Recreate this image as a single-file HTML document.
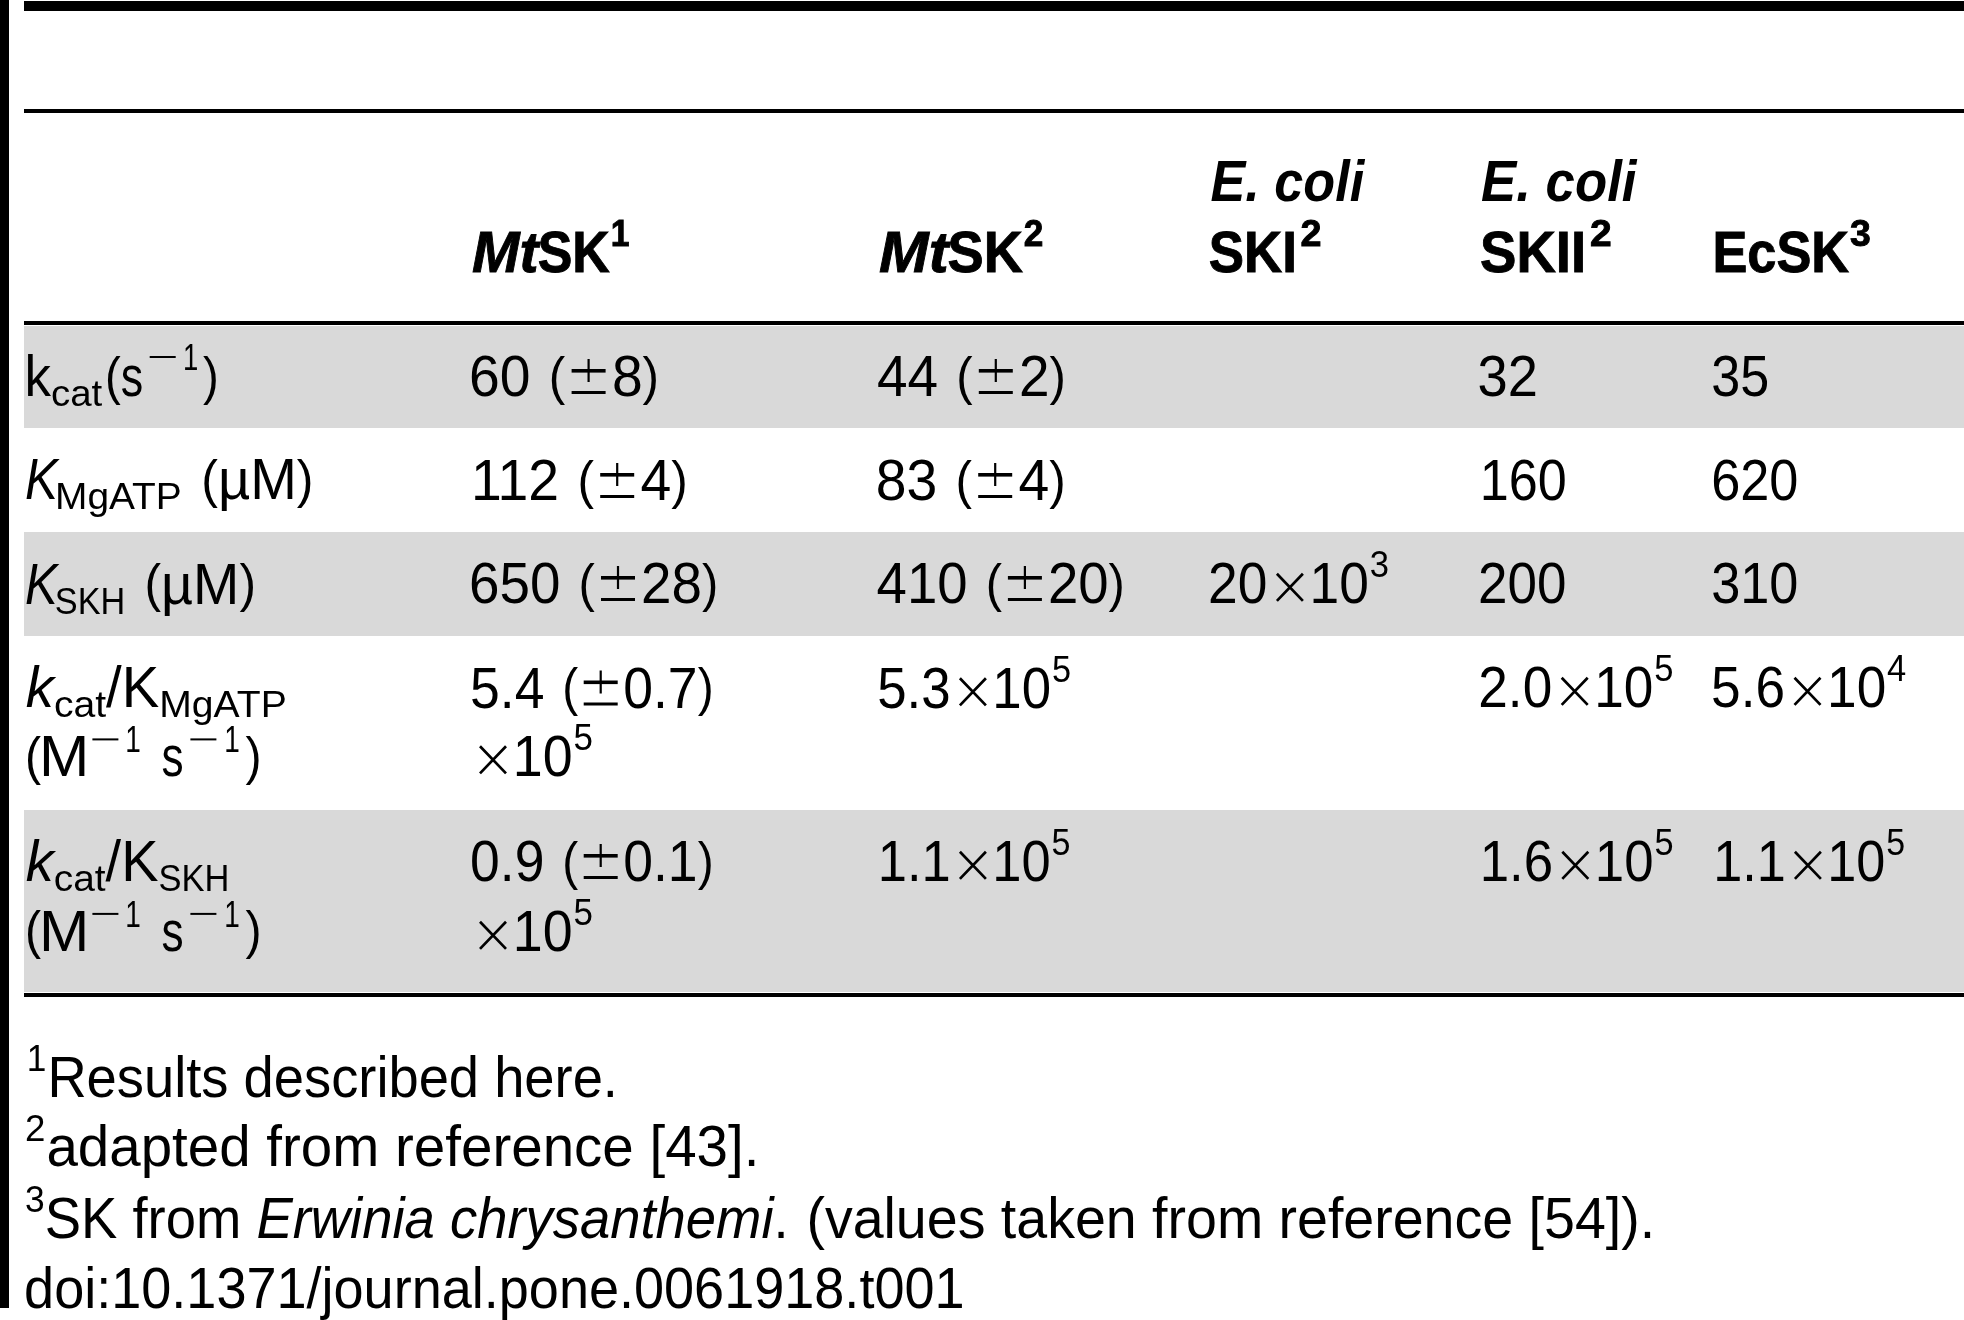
<!DOCTYPE html>
<html><head><meta charset="utf-8"><title>Table</title>
<style>
html,body{margin:0;padding:0;background:#fff;}
body{width:1964px;height:1320px;overflow:hidden;}
svg{display:block;will-change:transform;font-family:"Liberation Sans",sans-serif;font-size:57px;white-space:pre;}
</style></head><body>
<svg width="1964" height="1320" viewBox="0 0 1964 1320">
<rect x="0" y="0" width="9" height="1308"/>
<rect x="24" y="1" width="1940" height="10"/>
<rect x="24" y="109" width="1940" height="4"/>
<rect x="24" y="321" width="1940" height="4"/>
<rect x="24" y="326" width="1940" height="102" fill="#d9d9d9"/>
<rect x="24" y="532" width="1940" height="104" fill="#d9d9d9"/>
<rect x="24" y="810" width="1940" height="182" fill="#d9d9d9"/>
<rect x="24" y="993" width="1940" height="4"/>
<text x="472.0" y="272.0" font-weight="bold" stroke="#000" stroke-width="0.9" font-style="italic" textLength="66.62" lengthAdjust="spacingAndGlyphs">Mt</text>
<text x="537.7" y="272.0" font-weight="bold" stroke="#000" stroke-width="0.9" textLength="72.16" lengthAdjust="spacingAndGlyphs">SK</text>
<text x="610.8" y="246.0" font-size="37" font-weight="bold" stroke="#000" stroke-width="0.9" textLength="18.75" lengthAdjust="spacingAndGlyphs">1</text>
<text x="879.0" y="272.0" font-weight="bold" stroke="#000" stroke-width="0.9" font-style="italic" textLength="69.53" lengthAdjust="spacingAndGlyphs">Mt</text>
<text x="947.5" y="272.0" font-weight="bold" stroke="#000" stroke-width="0.9" textLength="75.30" lengthAdjust="spacingAndGlyphs">SK</text>
<text x="1023.8" y="246.0" font-size="37" font-weight="bold" stroke="#000" stroke-width="0.9" textLength="19.57" lengthAdjust="spacingAndGlyphs">2</text>
<text x="1210.4" y="201.0" font-weight="bold" font-style="italic" textLength="153.75" lengthAdjust="spacingAndGlyphs">E. coli</text>
<text x="1208.8" y="272.3" font-weight="bold" stroke="#000" stroke-width="0.9" textLength="88.12" lengthAdjust="spacingAndGlyphs">SKI</text>
<text x="1300.6" y="246.3" font-size="37" font-weight="bold" stroke="#000" stroke-width="0.9" textLength="20.99" lengthAdjust="spacingAndGlyphs">2</text>
<text x="1481.1" y="201.0" font-weight="bold" font-style="italic" textLength="155.35" lengthAdjust="spacingAndGlyphs">E. coli</text>
<text x="1480.0" y="272.3" font-weight="bold" stroke="#000" stroke-width="0.9" textLength="106.08" lengthAdjust="spacingAndGlyphs">SKII</text>
<text x="1589.9" y="246.3" font-size="37" font-weight="bold" stroke="#000" stroke-width="0.9" textLength="21.66" lengthAdjust="spacingAndGlyphs">2</text>
<text x="1712.4" y="272.3" font-weight="bold" stroke="#000" stroke-width="0.9" textLength="136.73" lengthAdjust="spacingAndGlyphs">EcSK</text>
<text x="1850.1" y="246.3" font-size="37" font-weight="bold" stroke="#000" stroke-width="0.9" textLength="20.79" lengthAdjust="spacingAndGlyphs">3</text>
<text x="24.5" y="396.0" textLength="26.43" lengthAdjust="spacingAndGlyphs">k</text>
<text x="51.0" y="406.0" font-size="37" textLength="51.27" lengthAdjust="spacingAndGlyphs">cat</text>
<text x="105.0" y="393.5" font-size="51" textLength="15.75" lengthAdjust="spacingAndGlyphs">(</text>
<text x="120.8" y="396.0" textLength="22.47" lengthAdjust="spacingAndGlyphs">s</text>
<rect x="149.7" y="356.0" width="26" height="2"/>
<text x="183.1" y="370.0" font-size="37" textLength="15.27" lengthAdjust="spacingAndGlyphs">1</text>
<text x="203.0" y="393.5" font-size="51" textLength="15.75" lengthAdjust="spacingAndGlyphs">)</text>
<text x="25.1" y="499.0" font-style="italic" textLength="32.86" lengthAdjust="spacingAndGlyphs">K</text>
<text x="55.0" y="509.0" font-size="37" textLength="126.75" lengthAdjust="spacingAndGlyphs">MgATP</text>
<text x="201.3" y="496.5" font-size="51" textLength="16.68" lengthAdjust="spacingAndGlyphs">(</text>
<text x="218.0" y="499.0" textLength="78.89" lengthAdjust="spacingAndGlyphs">µM</text>
<text x="296.8" y="496.5" font-size="51" textLength="16.68" lengthAdjust="spacingAndGlyphs">)</text>
<text x="25.1" y="603.6" font-style="italic" textLength="32.60" lengthAdjust="spacingAndGlyphs">K</text>
<text x="54.8" y="613.6" font-size="37" textLength="70.42" lengthAdjust="spacingAndGlyphs">SKH</text>
<text x="144.6" y="601.1" font-size="51" textLength="16.55" lengthAdjust="spacingAndGlyphs">(</text>
<text x="161.1" y="603.6" textLength="78.26" lengthAdjust="spacingAndGlyphs">µM</text>
<text x="239.4" y="601.1" font-size="51" textLength="16.55" lengthAdjust="spacingAndGlyphs">)</text>
<text x="25.8" y="706.8" font-style="italic" textLength="28.14" lengthAdjust="spacingAndGlyphs">k</text>
<text x="53.9" y="716.8" font-size="37" textLength="52.14" lengthAdjust="spacingAndGlyphs">cat</text>
<text x="106.1" y="706.8" textLength="53.17" lengthAdjust="spacingAndGlyphs">/K</text>
<text x="159.3" y="716.8" font-size="37" textLength="127.42" lengthAdjust="spacingAndGlyphs">MgATP</text>
<text x="24.9" y="773.9" font-size="51" textLength="16.06" lengthAdjust="spacingAndGlyphs">(</text>
<text x="39.0" y="776.4" textLength="50.29" lengthAdjust="spacingAndGlyphs">M</text>
<rect x="92.4" y="738.4" width="26" height="2"/>
<text x="125.2" y="752.4" font-size="37" textLength="15.57" lengthAdjust="spacingAndGlyphs">1</text>
<text x="161.5" y="776.4" textLength="22.10" lengthAdjust="spacingAndGlyphs">s</text>
<rect x="190.4" y="738.4" width="26" height="2"/>
<text x="224.2" y="752.4" font-size="37" textLength="15.57" lengthAdjust="spacingAndGlyphs">1</text>
<text x="245.5" y="773.9" font-size="51" textLength="16.06" lengthAdjust="spacingAndGlyphs">)</text>
<text x="25.8" y="881.3" font-style="italic" textLength="27.96" lengthAdjust="spacingAndGlyphs">k</text>
<text x="53.8" y="891.3" font-size="37" textLength="51.82" lengthAdjust="spacingAndGlyphs">cat</text>
<text x="105.6" y="881.3" textLength="52.84" lengthAdjust="spacingAndGlyphs">/K</text>
<text x="158.4" y="891.3" font-size="37" textLength="70.91" lengthAdjust="spacingAndGlyphs">SKH</text>
<text x="24.9" y="948.4" font-size="51" textLength="16.06" lengthAdjust="spacingAndGlyphs">(</text>
<text x="39.0" y="950.9" textLength="50.29" lengthAdjust="spacingAndGlyphs">M</text>
<rect x="92.4" y="912.9" width="26" height="2"/>
<text x="125.2" y="926.9" font-size="37" textLength="15.57" lengthAdjust="spacingAndGlyphs">1</text>
<text x="161.5" y="950.9" textLength="22.10" lengthAdjust="spacingAndGlyphs">s</text>
<rect x="190.4" y="912.9" width="26" height="2"/>
<text x="224.2" y="926.9" font-size="37" textLength="15.57" lengthAdjust="spacingAndGlyphs">1</text>
<text x="245.5" y="948.4" font-size="51" textLength="16.06" lengthAdjust="spacingAndGlyphs">)</text>
<text x="469.1" y="396.0" textLength="61.50" lengthAdjust="spacingAndGlyphs">60</text>
<text x="548.8" y="393.5" font-size="51" textLength="16.47" lengthAdjust="spacingAndGlyphs">(</text>
<rect x="571.6" y="369.0" width="34" height="3.6"/><rect x="587.5" y="359.0" width="2.2" height="23"/><rect x="571.6" y="391.0" width="34" height="3"/>
<text x="611.9" y="396.0" textLength="30.75" lengthAdjust="spacingAndGlyphs">8</text>
<text x="642.6" y="393.5" font-size="51" textLength="16.47" lengthAdjust="spacingAndGlyphs">)</text>
<text x="470.9" y="500.0" textLength="88.19" lengthAdjust="spacingAndGlyphs">112</text>
<text x="577.4" y="497.5" font-size="51" textLength="16.48" lengthAdjust="spacingAndGlyphs">(</text>
<rect x="600.2" y="473.0" width="34" height="3.6"/><rect x="616.1" y="463.0" width="2.2" height="23"/><rect x="600.2" y="495.0" width="34" height="3"/>
<text x="640.4" y="500.0" textLength="30.76" lengthAdjust="spacingAndGlyphs">4</text>
<text x="671.2" y="497.5" font-size="51" textLength="16.48" lengthAdjust="spacingAndGlyphs">)</text>
<text x="469.1" y="603.0" textLength="91.39" lengthAdjust="spacingAndGlyphs">650</text>
<text x="578.6" y="600.5" font-size="51" textLength="16.32" lengthAdjust="spacingAndGlyphs">(</text>
<rect x="601.0" y="576.0" width="34" height="3.6"/><rect x="616.9" y="566.0" width="2.2" height="23"/><rect x="601.0" y="598.0" width="34" height="3"/>
<text x="641.0" y="603.0" textLength="60.93" lengthAdjust="spacingAndGlyphs">28</text>
<text x="701.9" y="600.5" font-size="51" textLength="16.32" lengthAdjust="spacingAndGlyphs">)</text>
<text x="470.1" y="707.5" textLength="74.41" lengthAdjust="spacingAndGlyphs">5.4</text>
<text x="562.2" y="705.0" font-size="51" textLength="15.95" lengthAdjust="spacingAndGlyphs">(</text>
<rect x="583.7" y="680.5" width="34" height="3.6"/><rect x="599.6" y="670.5" width="2.2" height="23"/><rect x="583.7" y="702.5" width="34" height="3"/>
<text x="623.2" y="707.5" textLength="74.41" lengthAdjust="spacingAndGlyphs">0.7</text>
<text x="697.7" y="705.0" font-size="51" textLength="15.95" lengthAdjust="spacingAndGlyphs">)</text>
<path d="M480.0 746.2L506.0 773.4M480.0 773.4L506.0 746.2" stroke="#000" stroke-width="2.7"/>
<text x="512.8" y="775.5" textLength="59.79" lengthAdjust="spacingAndGlyphs">10</text>
<text x="573.5" y="749.5" font-size="37" textLength="19.41" lengthAdjust="spacingAndGlyphs">5</text>
<text x="470.1" y="881.0" textLength="74.41" lengthAdjust="spacingAndGlyphs">0.9</text>
<text x="562.2" y="878.5" font-size="51" textLength="15.95" lengthAdjust="spacingAndGlyphs">(</text>
<rect x="583.7" y="854.0" width="34" height="3.6"/><rect x="599.6" y="844.0" width="2.2" height="23"/><rect x="583.7" y="876.0" width="34" height="3"/>
<text x="623.2" y="881.0" textLength="74.41" lengthAdjust="spacingAndGlyphs">0.1</text>
<text x="697.7" y="878.5" font-size="51" textLength="15.95" lengthAdjust="spacingAndGlyphs">)</text>
<path d="M480.0 921.7L506.0 948.9M480.0 948.9L506.0 921.7" stroke="#000" stroke-width="2.7"/>
<text x="512.8" y="951.0" textLength="59.79" lengthAdjust="spacingAndGlyphs">10</text>
<text x="573.5" y="925.0" font-size="37" textLength="19.41" lengthAdjust="spacingAndGlyphs">5</text>
<text x="877.0" y="396.0" textLength="61.12" lengthAdjust="spacingAndGlyphs">44</text>
<text x="956.3" y="393.5" font-size="51" textLength="16.37" lengthAdjust="spacingAndGlyphs">(</text>
<rect x="978.8" y="369.0" width="34" height="3.6"/><rect x="994.7" y="359.0" width="2.2" height="23"/><rect x="978.8" y="391.0" width="34" height="3"/>
<text x="1018.9" y="396.0" textLength="30.56" lengthAdjust="spacingAndGlyphs">2</text>
<text x="1049.5" y="393.5" font-size="51" textLength="16.37" lengthAdjust="spacingAndGlyphs">)</text>
<text x="875.7" y="500.0" textLength="61.50" lengthAdjust="spacingAndGlyphs">83</text>
<text x="955.4" y="497.5" font-size="51" textLength="16.47" lengthAdjust="spacingAndGlyphs">(</text>
<rect x="978.2" y="473.0" width="34" height="3.6"/><rect x="994.1" y="463.0" width="2.2" height="23"/><rect x="978.2" y="495.0" width="34" height="3"/>
<text x="1018.5" y="500.0" textLength="30.75" lengthAdjust="spacingAndGlyphs">4</text>
<text x="1049.2" y="497.5" font-size="51" textLength="16.47" lengthAdjust="spacingAndGlyphs">)</text>
<text x="876.6" y="603.0" textLength="91.03" lengthAdjust="spacingAndGlyphs">410</text>
<text x="985.7" y="600.5" font-size="51" textLength="16.26" lengthAdjust="spacingAndGlyphs">(</text>
<rect x="1007.9" y="576.0" width="34" height="3.6"/><rect x="1023.8" y="566.0" width="2.2" height="23"/><rect x="1007.9" y="598.0" width="34" height="3"/>
<text x="1047.9" y="603.0" textLength="60.69" lengthAdjust="spacingAndGlyphs">20</text>
<text x="1108.6" y="600.5" font-size="51" textLength="16.26" lengthAdjust="spacingAndGlyphs">)</text>
<text x="877.2" y="707.5" textLength="73.39" lengthAdjust="spacingAndGlyphs">5.3</text>
<path d="M959.9 678.2L985.9 705.4M959.9 705.4L985.9 678.2" stroke="#000" stroke-width="2.7"/>
<text x="992.3" y="707.5" textLength="58.73" lengthAdjust="spacingAndGlyphs">10</text>
<text x="1052.0" y="681.5" font-size="37" textLength="19.06" lengthAdjust="spacingAndGlyphs">5</text>
<text x="877.8" y="881.0" textLength="72.99" lengthAdjust="spacingAndGlyphs">1.1</text>
<path d="M959.9 851.7L985.9 878.9M959.9 878.9L985.9 851.7" stroke="#000" stroke-width="2.7"/>
<text x="992.3" y="881.0" textLength="58.40" lengthAdjust="spacingAndGlyphs">10</text>
<text x="1051.6" y="855.0" font-size="37" textLength="18.95" lengthAdjust="spacingAndGlyphs">5</text>
<text x="1208.1" y="603.0" textLength="59.33" lengthAdjust="spacingAndGlyphs">20</text>
<path d="M1276.9 573.7L1302.9 600.9M1276.9 600.9L1302.9 573.7" stroke="#000" stroke-width="2.7"/>
<text x="1309.6" y="603.0" textLength="59.33" lengthAdjust="spacingAndGlyphs">10</text>
<text x="1369.8" y="577.0" font-size="37" textLength="19.25" lengthAdjust="spacingAndGlyphs">3</text>
<text x="1477.5" y="396.0" textLength="60.38" lengthAdjust="spacingAndGlyphs">32</text>
<text x="1479.7" y="500.0" textLength="87.02" lengthAdjust="spacingAndGlyphs">160</text>
<text x="1478.1" y="603.0" textLength="88.44" lengthAdjust="spacingAndGlyphs">200</text>
<text x="1478.3" y="707.0" textLength="73.93" lengthAdjust="spacingAndGlyphs">2.0</text>
<path d="M1561.7 677.7L1587.7 704.9M1561.7 704.9L1587.7 677.7" stroke="#000" stroke-width="2.7"/>
<text x="1594.3" y="707.0" textLength="59.16" lengthAdjust="spacingAndGlyphs">10</text>
<text x="1654.3" y="681.0" font-size="37" textLength="19.20" lengthAdjust="spacingAndGlyphs">5</text>
<text x="1479.7" y="881.0" textLength="73.41" lengthAdjust="spacingAndGlyphs">1.6</text>
<path d="M1562.3 851.7L1588.3 878.9M1562.3 878.9L1588.3 851.7" stroke="#000" stroke-width="2.7"/>
<text x="1594.8" y="881.0" textLength="58.74" lengthAdjust="spacingAndGlyphs">10</text>
<text x="1654.5" y="855.0" font-size="37" textLength="19.07" lengthAdjust="spacingAndGlyphs">5</text>
<text x="1711.2" y="396.0" textLength="57.98" lengthAdjust="spacingAndGlyphs">35</text>
<text x="1711.2" y="500.0" textLength="87.19" lengthAdjust="spacingAndGlyphs">620</text>
<text x="1711.2" y="603.0" textLength="87.19" lengthAdjust="spacingAndGlyphs">310</text>
<text x="1711.1" y="707.0" textLength="73.93" lengthAdjust="spacingAndGlyphs">5.6</text>
<path d="M1794.5 677.7L1820.5 704.9M1794.5 704.9L1820.5 677.7" stroke="#000" stroke-width="2.7"/>
<text x="1827.1" y="707.0" textLength="59.16" lengthAdjust="spacingAndGlyphs">10</text>
<text x="1887.1" y="681.0" font-size="37" textLength="19.20" lengthAdjust="spacingAndGlyphs">4</text>
<text x="1713.3" y="881.0" textLength="72.60" lengthAdjust="spacingAndGlyphs">1.1</text>
<path d="M1794.9 851.7L1820.9 878.9M1794.9 878.9L1820.9 851.7" stroke="#000" stroke-width="2.7"/>
<text x="1827.2" y="881.0" textLength="58.09" lengthAdjust="spacingAndGlyphs">10</text>
<text x="1886.2" y="855.0" font-size="37" textLength="18.85" lengthAdjust="spacingAndGlyphs">5</text>
<text x="26.8" y="1071.0" font-size="37" textLength="19.61" lengthAdjust="spacingAndGlyphs">1</text>
<text x="47.4" y="1096.5" textLength="570.55" lengthAdjust="spacingAndGlyphs">Results described here.</text>
<text x="25.0" y="1140.9" font-size="37" textLength="20.40" lengthAdjust="spacingAndGlyphs">2</text>
<text x="46.4" y="1166.4" textLength="713.00" lengthAdjust="spacingAndGlyphs">adapted from reference [43].</text>
<text x="25.0" y="1212.0" font-size="37" textLength="19.65" lengthAdjust="spacingAndGlyphs">3</text>
<text x="44.7" y="1238.0" textLength="196.54" lengthAdjust="spacingAndGlyphs">SK from</text>
<text x="256.4" y="1238.0" font-style="italic" textLength="517.15" lengthAdjust="spacingAndGlyphs">Erwinia chrysanthemi</text>
<text x="773.5" y="1238.0" textLength="15.12" lengthAdjust="spacingAndGlyphs">.</text>
<text x="806.4" y="1238.0" textLength="848.73" lengthAdjust="spacingAndGlyphs">(values taken from reference [54]).</text>
<text x="24.1" y="1308.0" textLength="940.46" lengthAdjust="spacingAndGlyphs">doi:10.1371/journal.pone.0061918.t001</text>
</svg>
</body></html>
